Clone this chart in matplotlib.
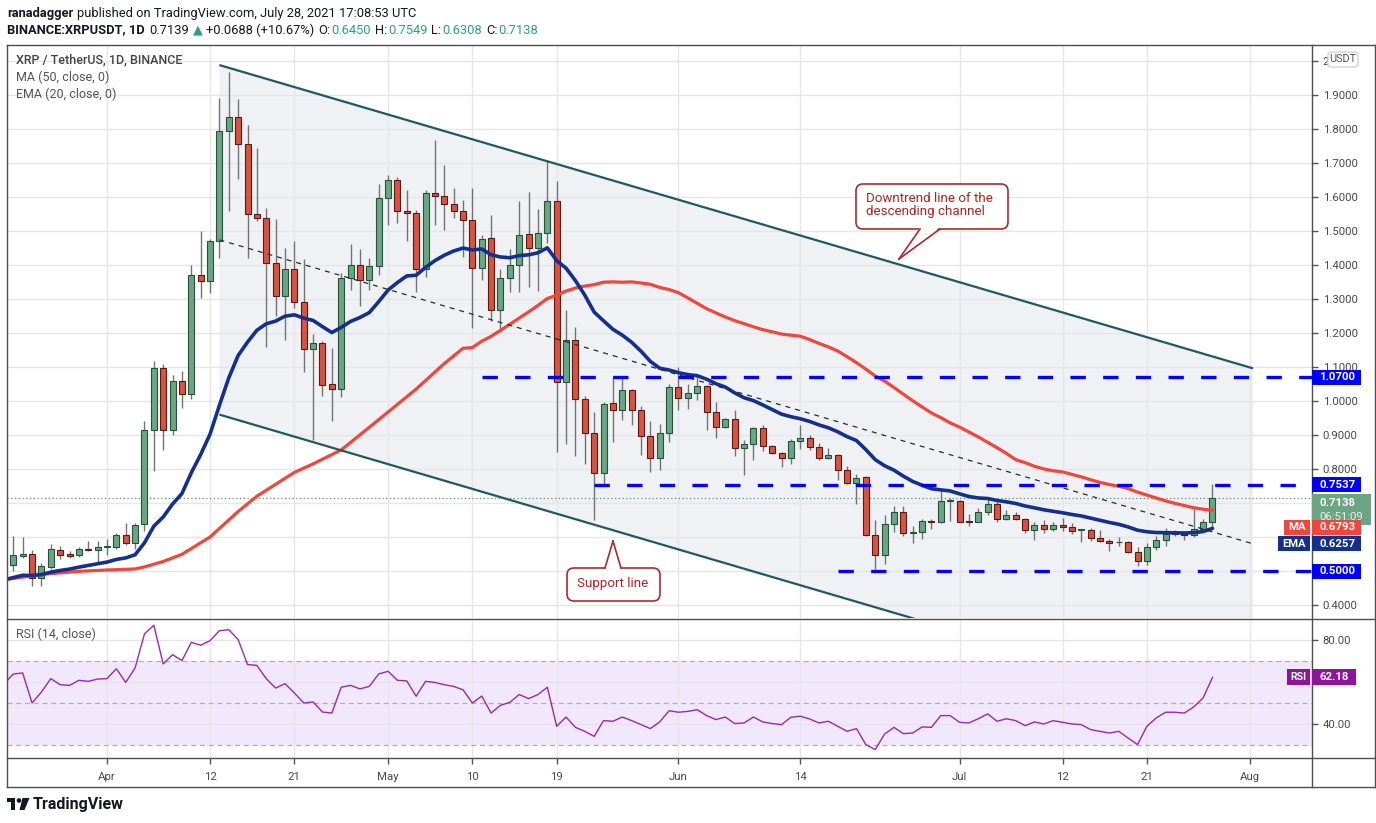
import numpy as np
import pandas as pd
import matplotlib
matplotlib.use('Agg')
import matplotlib.pyplot as plt
import matplotlib.dates as mdates
from matplotlib.patches import Rectangle, FancyBboxPatch, Polygon, Circle
from matplotlib.lines import Line2D
from matplotlib.transforms import IdentityTransform

plt.rcParams['font.family'] = ['Roboto', 'DejaVu Sans']

W, H = 1376, 823

# ---- data (XRP/USDT daily, 2021-03-21 .. 2021-07-28) ----
START = '2021-03-21'
opens = [0.530, 0.518, 0.544, 0.551, 0.480, 0.512, 0.561, 0.549, 0.546, 0.566,
         0.561, 0.571, 0.571, 0.607, 0.582, 0.637, 0.916, 1.098, 0.916, 1.058,
         1.020, 1.372, 1.352, 1.470, 1.795, 1.835, 1.757, 1.549, 1.539, 1.407,
         1.310, 1.387, 1.290, 1.153, 1.171, 1.050, 1.035, 1.362, 1.400, 1.355,
         1.398, 1.597, 1.650, 1.560, 1.553, 1.388, 1.612, 1.602, 1.580, 1.559,
         1.532, 1.391, 1.480, 1.268, 1.361, 1.400, 1.490, 1.450, 1.494, 1.589,
         1.056, 1.179, 1.006, 0.906, 0.788, 0.994, 0.973, 1.031, 0.973, 0.896,
         0.832, 0.906, 1.041, 1.009, 1.024, 1.043, 0.968, 0.924, 0.947, 0.862,
         0.873, 0.921, 0.867, 0.847, 0.832, 0.883, 0.891, 0.865, 0.832, 0.841,
         0.798, 0.759, 0.776, 0.605, 0.547, 0.639, 0.673, 0.612, 0.616, 0.648,
         0.645, 0.706, 0.706, 0.648, 0.645, 0.674, 0.698, 0.653, 0.665, 0.653,
         0.621, 0.635, 0.624, 0.635, 0.629, 0.620, 0.621, 0.597, 0.588, 0.584,
         0.585, 0.556, 0.529, 0.571, 0.592, 0.611, 0.610, 0.606, 0.624, 0.6450]
highs = [0.538, 0.602, 0.600, 0.561, 0.524, 0.578, 0.574, 0.558, 0.571, 0.589,
         0.589, 0.595, 0.612, 0.642, 0.642, 0.941, 1.118, 1.108, 1.075, 1.088,
         1.399, 1.501, 1.476, 1.890, 1.967, 1.888, 1.812, 1.744, 1.567, 1.534,
         1.450, 1.470, 1.418, 1.198, 1.176, 1.156, 1.375, 1.463, 1.448, 1.420,
         1.639, 1.666, 1.660, 1.620, 1.563, 1.622, 1.767, 1.695, 1.626, 1.590,
         1.626, 1.489, 1.547, 1.389, 1.448, 1.587, 1.614, 1.565, 1.705, 1.646,
         1.267, 1.218, 1.016, 0.967, 0.998, 1.070, 1.070, 1.035, 0.986, 0.942,
         0.933, 1.051, 1.100, 1.051, 1.078, 1.048, 0.996, 0.950, 0.974, 0.886,
         0.924, 0.930, 0.870, 0.850, 0.888, 0.930, 0.901, 0.877, 0.863, 0.843,
         0.808, 0.786, 0.779, 0.651, 0.665, 0.692, 0.690, 0.631, 0.654, 0.653,
         0.734, 0.715, 0.710, 0.669, 0.685, 0.718, 0.705, 0.680, 0.674, 0.655,
         0.645, 0.651, 0.645, 0.656, 0.641, 0.624, 0.626, 0.622, 0.595, 0.600,
         0.588, 0.571, 0.582, 0.604, 0.626, 0.622, 0.612, 0.682, 0.653, 0.7549]
lows = [0.515, 0.500, 0.538, 0.455, 0.455, 0.507, 0.536, 0.538, 0.541, 0.558,
        0.526, 0.548, 0.566, 0.576, 0.566, 0.619, 0.794, 0.855, 0.900, 0.980,
        1.007, 1.304, 1.318, 1.420, 1.559, 1.653, 1.420, 1.529, 1.159, 1.250,
        1.180, 1.274, 1.084, 0.884, 1.016, 0.940, 1.011, 1.325, 1.278, 1.325,
        1.372, 1.519, 1.524, 1.470, 1.320, 1.365, 1.519, 1.502, 1.537, 1.424,
        1.214, 1.355, 1.234, 1.202, 1.320, 1.320, 1.334, 1.323, 1.465, 0.849,
        0.874, 0.838, 0.816, 0.651, 0.754, 0.880, 0.943, 0.930, 0.842, 0.790,
        0.796, 0.878, 0.973, 0.977, 1.004, 0.914, 0.890, 0.921, 0.837, 0.781,
        0.827, 0.852, 0.845, 0.805, 0.816, 0.859, 0.855, 0.827, 0.829, 0.769,
        0.756, 0.696, 0.602, 0.507, 0.521, 0.614, 0.602, 0.582, 0.595, 0.624,
        0.641, 0.647, 0.643, 0.631, 0.643, 0.665, 0.643, 0.649, 0.649, 0.612,
        0.590, 0.612, 0.617, 0.617, 0.608, 0.585, 0.588, 0.585, 0.558, 0.575,
        0.553, 0.514, 0.517, 0.561, 0.575, 0.602, 0.592, 0.600, 0.615, 0.6308]
closes = [0.520, 0.546, 0.551, 0.480, 0.514, 0.566, 0.548, 0.544, 0.566, 0.563,
          0.571, 0.572, 0.607, 0.582, 0.635, 0.916, 1.098, 0.916, 1.058, 1.020,
          1.372, 1.352, 1.470, 1.795, 1.835, 1.757, 1.549, 1.539, 1.407, 1.310,
          1.387, 1.291, 1.153, 1.171, 1.046, 1.035, 1.362, 1.400, 1.355, 1.398,
          1.597, 1.650, 1.559, 1.553, 1.388, 1.612, 1.602, 1.580, 1.559, 1.532,
          1.391, 1.476, 1.268, 1.361, 1.400, 1.488, 1.450, 1.494, 1.589, 1.056,
          1.179, 1.006, 0.906, 0.788, 0.992, 0.974, 1.031, 0.973, 0.896, 0.832,
          0.906, 1.041, 1.009, 1.024, 1.043, 0.968, 0.924, 0.947, 0.862, 0.873,
          0.921, 0.867, 0.847, 0.832, 0.883, 0.891, 0.865, 0.832, 0.841, 0.798,
          0.759, 0.774, 0.605, 0.547, 0.639, 0.673, 0.612, 0.616, 0.646, 0.644,
          0.706, 0.707, 0.645, 0.645, 0.674, 0.698, 0.653, 0.665, 0.653, 0.621,
          0.635, 0.624, 0.635, 0.629, 0.618, 0.621, 0.596, 0.588, 0.582, 0.586,
          0.556, 0.529, 0.571, 0.592, 0.610, 0.608, 0.606, 0.624, 0.645, 0.7138]
rsi14 = [59.0, 63.8, 64.3, 50.0, 55.2, 61.6, 58.7, 58.4, 60.8, 60.3,
         61.4, 61.6, 66.3, 59.8, 66.7, 82.9, 87.0, 68.6, 73.0, 70.2,
         78.9, 77.5, 79.7, 84.4, 84.9, 80.2, 68.3, 67.9, 61.6, 57.1,
         59.2, 54.8, 50.0, 50.5, 45.7, 45.2, 57.5, 58.4, 56.7, 57.9,
         63.8, 65.1, 60.8, 60.5, 53.2, 60.3, 59.8, 58.7, 57.9, 56.3,
         50.0, 53.3, 45.2, 48.9, 50.3, 54.0, 52.1, 54.0, 57.5, 38.9,
         43.3, 38.4, 36.5, 34.1, 41.6, 41.3, 43.3, 41.6, 39.7, 37.8,
         41.0, 46.3, 45.6, 46.0, 46.8, 44.0, 42.1, 43.3, 40.2, 40.5,
         43.3, 41.0, 40.2, 39.7, 43.2, 43.7, 42.4, 40.5, 41.3, 38.9,
         36.5, 37.8, 30.2, 27.8, 35.2, 38.4, 35.4, 35.7, 38.6, 38.4,
         44.0, 44.0, 40.8, 40.5, 42.5, 44.8, 41.3, 42.5, 41.6, 39.2,
         41.0, 40.0, 41.6, 40.8, 40.0, 39.7, 37.3, 36.5, 35.7, 36.5,
         33.3, 30.2, 38.9, 42.9, 45.6, 45.6, 45.2, 48.1, 52.4, 62.18]

# MA(50) before enough history exists in the window
ma50_early_dates = ['2021-03-21', '2021-03-25', '2021-03-29', '2021-04-01', '2021-04-04',
                    '2021-04-05', '2021-04-07', '2021-04-09', '2021-04-11', '2021-04-12',
                    '2021-04-15', '2021-04-17', '2021-04-19', '2021-04-21', '2021-04-23',
                    '2021-04-26', '2021-04-30', '2021-05-04', '2021-05-07', '2021-05-09']
ma50_early = [0.474, 0.490, 0.499, 0.503, 0.506, 0.512, 0.528, 0.549, 0.583, 0.600,
              0.675, 0.720, 0.755, 0.790, 0.815, 0.856, 0.945, 1.035, 1.110, 1.155]
EMA20_START = 0.474

MA_LAST, EMA_LAST, RSI_LAST = 0.6793, 0.6257, 62.18
TIMER = '06:51:09'

levels = [1.0700, 0.7537, 0.5000]
level_starts = ['2021-05-11', '2021-05-23', '2021-06-18']
channel_upper = [('2021-04-13', 1.988), ('2021-08-01 08:00', 1.096)]
channel_lower = [('2021-04-13', 0.960), ('2021-08-01 08:00', 0.067)]
support_trend = [('2021-04-13', 1.474), ('2021-08-01 08:00', 0.580)]

tick_dates = ['2021-04-01', '2021-04-12', '2021-04-21', '2021-05-01', '2021-05-10', '2021-05-19',
              '2021-06-01', '2021-06-14', '2021-07-01', '2021-07-12', '2021-07-21', '2021-08-01']
tick_labels = ['Apr', '12', '21', 'May', '10', '19', 'Jun', '14', 'Jul', '12', '21', 'Aug']
price_ticks = [0.4, 0.5, 0.6, 0.7, 0.8, 0.9, 1.0, 1.1, 1.2, 1.3, 1.4, 1.5, 1.6, 1.7, 1.8, 1.9, 2.0]
# labels hidden behind the price tags are left empty; "2" is cut by the USDT box
price_tick_labels = ['0.4000', '', '', '', '0.8000', '0.9000', '1.0000', '1.1000', '1.2000',
                     '1.3000', '1.4000', '1.5000', '1.6000', '1.7000', '1.8000', '1.9000', '2']


def d2n(s):
    return mdates.date2num(pd.Timestamp(s))


def fx(px):
    return px / W


def fy(py):
    return 1 - py / H


dates = pd.date_range(START, periods=len(closes), freq='D')
x = mdates.date2num(dates)
o, h, l, c = (np.array(a) for a in (opens, highs, lows, closes))

# indicators
ema = [EMA20_START]
for v in c[1:]:
    ema.append(ema[-1] + 2.0 / 21 * (v - ema[-1]))
ema = np.array(ema)
ma_x = [d2n(d) for d in ma50_early_dates]
ma_y = list(ma50_early)
for k in range(50, len(c)):
    ma_x.append(x[k])
    ma_y.append(c[k - 49:k + 1].mean())

fig = plt.figure(figsize=(W / 100, H / 100), dpi=100)
fig.patch.set_facecolor('white')
XL, XR = 7, 1311.5
ax = fig.add_axes([fx(XL), fy(618), fx(XR) - fx(XL), fy(45) - fy(618)])
axr = fig.add_axes([fx(XL), fy(758), fx(XR) - fx(XL), fy(619) - fy(758)], sharex=ax)

xlim = (d2n('2021-03-21 07:50'), d2n('2021-08-07 13:40'))
ax.set_xlim(*xlim)
ax.set_ylim(0.3618, 2.047)
axr.set_ylim(23.8, 90)

grid_c = '#e6e6e8'
for a in (ax, axr):
    for s in a.spines.values():
        s.set_visible(False)
    a.set_axisbelow(True)
    a.set_xticks([d2n(d) for d in tick_dates])
    a.grid(True, color=grid_c, lw=1)

ax.set_yticks(price_ticks)
ax.set_yticklabels(price_tick_labels)
ax.yaxis.tick_right()
ax.tick_params(axis='y', direction='out', length=4, width=1, color='#555555',
               labelsize=8.2, labelcolor='#4a4a4a', pad=4)
ax.tick_params(axis='x', length=0, labelbottom=False)

axr.set_yticks([40, 60, 80])
axr.set_yticklabels(['40.00', '', '80.00'])
axr.yaxis.tick_right()
axr.tick_params(axis='y', direction='out', length=4, width=1, color='#555555',
                labelsize=8.2, labelcolor='#4a4a4a', pad=4)
axr.set_xticklabels(tick_labels)
axr.tick_params(axis='x', direction='out', length=4, width=1, color='#555555',
                labelsize=8.2, labelcolor='#4a4a4a', pad=6)

# descending channel
(ua, uy0), (ub, uy1) = channel_upper
(la, ly0), (lb, ly1) = channel_lower
ax.add_patch(Polygon([(d2n(ua), uy0), (d2n(ub), uy1), (d2n(lb), ly1), (d2n(la), ly0)],
                     closed=True, fc='#eff1f4', ec='none', zorder=0.2))
for (p0, v0), (p1, v1) in (channel_upper, channel_lower):
    ax.plot([d2n(p0), d2n(p1)], [v0, v1], color='#1f5a62', lw=1.6, zorder=8,
            solid_capstyle='butt')
(sa, sv0), (sb, sv1) = support_trend
ax.plot([d2n(sa), d2n(sb)], [sv0, sv1], color='#2b2b2b', lw=0.9, dashes=(4, 4), zorder=8)

# last price dotted line
ax.axhline(c[-1], color='#4f9c72', lw=0.9, ls=(0, (1, 2)), zorder=1)

# candles
up = c >= o
lo = np.minimum(o, c)
bh = np.maximum(np.abs(c - o), 0.0025)
ax.vlines(x, l, h, color='#737375', lw=1, zorder=3)
ax.bar(x[up], bh[up], bottom=lo[up], width=0.64, color='#6ba583', edgecolor='#225437',
       lw=0.8, zorder=4)
ax.bar(x[~up], bh[~up], bottom=lo[~up], width=0.64, color='#d75442', edgecolor='#5b1a13',
       lw=0.8, zorder=4)

# moving averages
ax.plot(ma_x, ma_y, color='#f2463b', lw=2.3, zorder=5, solid_capstyle='round',
        solid_joinstyle='round')
ax.plot(x, ema, color='#13308f', lw=2.6, zorder=6, solid_capstyle='round',
        solid_joinstyle='round')

# horizontal levels
for lv, st in zip(levels, level_starts):
    ax.plot([d2n(st), xlim[1]], [lv, lv], color='#0000ff', lw=2.4, dashes=(4.6, 5.2),
            zorder=9, solid_capstyle='butt', dash_capstyle='butt')

# RSI pane
axr.fill_between(list(xlim), 30, 70, color='#8c33e6', alpha=0.11, lw=0, zorder=0.2)
for lv in (70, 50, 30):
    axr.axhline(lv, color='#b4acbb', lw=0.9, dashes=(4, 3), zorder=1)
axr.plot(x, rsi14, color='#9c27b0', lw=1.0, zorder=3)


# ---- frame lines ----
def fline(x0, y0, x1, y1, color='#4e4e50', lw=1.0):
    fig.add_artist(Line2D([fx(x0), fx(x1)], [fy(y0), fy(y1)], transform=fig.transFigure,
                          color=color, lw=lw, zorder=3))


for seg in [(7, 45, 1375, 45), (7, 45, 7, 787), (1375, 45, 1375, 787), (7, 787, 1375, 787),
            (7, 618.5, 1375, 618.5), (7, 758, 1375, 758), (XR, 45, XR, 787)]:
    fline(*seg)


# ---- price tags on the right axis ----
def ypix(a, v):
    return H - a.transData.transform((xlim[0], v))[1]


def tag(yc, text, fc, x0=1312, x1=1361, hh=15, tc='white', size=8.2, center=False):
    fig.add_artist(Rectangle((fx(x0), fy(yc + hh / 2)), fx(x1) - fx(x0), hh / H,
                             transform=fig.transFigure, fc=fc, ec='none', zorder=5))
    if center:
        fig.text(fx((x0 + x1) / 2), fy(yc), text, ha='center', va='center', color=tc,
                 fontsize=size, fontweight='bold', zorder=6)
    else:
        fig.text(fx(x0 + 7), fy(yc), text, ha='left', va='center', color=tc,
                 fontsize=size, fontweight='bold', zorder=6)


tag(ypix(ax, levels[0]), '1.0700', '#0000ff')
tag(ypix(ax, levels[1]), '0.7537', '#0000ff')
tag(ypix(ax, levels[2]), '0.5000', '#0000ff')

yp = ypix(ax, c[-1])
fig.add_artist(Rectangle((fx(1312), fy(yp + 26.5)), fx(1371) - fx(1312), 30.5 / H,
                         transform=fig.transFigure, fc='#6ba583', ec='none', zorder=5))
fig.text(fx(1319), fy(yp + 4.5), f'{c[-1]:.4f}', ha='left', va='center', color='white',
         fontsize=8.2, fontweight='bold', zorder=6)
fig.text(fx(1319), fy(yp + 19), TIMER, ha='left', va='center', color='#e9f3ec',
         fontsize=8.2, zorder=6)

y_ma = yp + 29
tag(y_ma, 'MA', '#f2463b', x0=1284, x1=1310, center=True)
tag(y_ma, f'{MA_LAST:.4f}', '#f2463b')
y_ema = y_ma + 16.2
tag(y_ema, 'EMA', '#13308f', x0=1278, x1=1310, size=8.0, center=True)
tag(y_ema, f'{EMA_LAST:.4f}', '#13308f')

y_rsi = ypix(axr, RSI_LAST)
tag(y_rsi, 'RSI', '#8e1599', x0=1287, x1=1310, hh=16, size=7.6, center=True)
tag(y_rsi, f'{RSI_LAST:.2f}', '#8e1599', x0=1312, x1=1356, hh=16)

# USDT unit box
fig.add_artist(FancyBboxPatch((1328, H - 67), 30, 15, boxstyle='round,pad=0,rounding_size=3',
                              transform=IdentityTransform(), fc='white', ec='#d2d2dc', lw=1,
                              zorder=5))
fig.text(fx(1343), fy(59.5), 'USDT', ha='center', va='center', fontsize=7.8,
         color='#555555', zorder=6)

# ---- legends ----
fig.text(fx(16), fy(60), 'XRP / TetherUS, 1D, BINANCE', fontsize=9, color='#444444',
         fontweight='medium', va='center')
fig.text(fx(16), fy(77), 'MA (50, close, 0)', fontsize=9, color='#555555', va='center')
fig.text(fx(16), fy(94), 'EMA (20, close, 0)', fontsize=9, color='#555555', va='center')
fig.text(fx(16), fy(634), 'RSI (14, close)', fontsize=9, color='#555555', va='center')

# ---- header ----
renderer = fig.canvas.get_renderer()


def runs(x0, y0, parts, size=9.3):
    xx = x0
    for text, color, weight, gap in parts:
        t = fig.text(fx(xx), fy(y0), text, color=color, fontweight=weight, fontsize=size,
                     va='center', ha='left')
        xx += t.get_window_extent(renderer=renderer).width + gap


teal = '#2e9f83'
ink = '#131722'
runs(7, 13, [('ranadagger', ink, 'bold', 3.5),
             ('published on TradingView.com, July 28, 2021 17:08:53 UTC', ink, 'normal', 0)])
runs(7, 30, [('BINANCE:XRPUSDT, 1D', ink, 'bold', 5),
             ('0.7139', ink, 'normal', 3.5), ('\u25b2', teal, 'normal', 3.5),
             ('+0.0688 (+10.67%)', ink, 'normal', 4),
             ('O:', ink, 'normal', 0.8), ('0.6450', teal, 'normal', 4),
             ('H:', ink, 'normal', 0.8), ('0.7549', teal, 'normal', 4),
             ('L:', ink, 'normal', 0.8), ('0.6308', teal, 'normal', 4),
             ('C:', ink, 'normal', 0.8), ('0.7138', teal, 'normal', 0)])


# ---- callouts ----
def callout(box, base, tip, lines, tx, ty, side):
    x0, y0, x1, y1 = box
    red = '#ad2a2a'
    fig.add_artist(FancyBboxPatch((x0, H - y1), x1 - x0, y1 - y0,
                                  boxstyle='round,pad=0,rounding_size=7',
                                  transform=IdentityTransform(), fc='white', ec=red,
                                  lw=1.2, zorder=7))
    yb = y1 if side == 'bottom' else y0
    inner = -2 if side == 'bottom' else 2
    fig.add_artist(Polygon([(base[0], H - yb - inner), (tip[0], H - tip[1]),
                            (base[1], H - yb - inner)], closed=True,
                           transform=IdentityTransform(), fc='white', ec='none', zorder=8))
    for bx in base:
        fig.add_artist(Line2D([bx, tip[0]], [H - yb, H - tip[1]], transform=IdentityTransform(),
                              color=red, lw=1.2, zorder=9))
    for i, s in enumerate(lines):
        fig.text(fx(tx), fy(ty + i * 13), s, color='#b22222', fontsize=9.6, va='center',
                 ha='left', zorder=10)


callout((856, 184, 1008, 229), (920, 940), (899, 259),
        ['Downtrend line of the', 'descending channel'], 866, 199, 'bottom')
callout((567, 568, 660, 601), (605, 621), (613, 541), ['Support line'], 577, 584, 'top')

# ---- TradingView mark ----
ink_logo = '#131722'
fig.add_artist(Rectangle((fx(6.5), fy(802)), fx(8.5), 4 / H, transform=fig.transFigure,
                         fc=ink_logo, ec='none'))
fig.add_artist(Rectangle((fx(10.5), fy(810)), fx(4.5), 12 / H, transform=fig.transFigure,
                         fc=ink_logo, ec='none'))
fig.add_artist(Circle((19, H - 800.5), 2.3, transform=IdentityTransform(), fc=ink_logo,
                      ec='none'))
fig.add_artist(Polygon([(22.5, H - 798), (29.5, H - 798), (24.5, H - 810), (19.5, H - 810)],
                       closed=True, transform=IdentityTransform(), fc=ink_logo, ec='none'))
fig.text(fx(33), fy(804.5), 'TradingView', fontsize=11.5, fontweight='bold', color=ink_logo,
         va='center', ha='left')

fig.savefig('out.png', dpi=100, facecolor='white')
